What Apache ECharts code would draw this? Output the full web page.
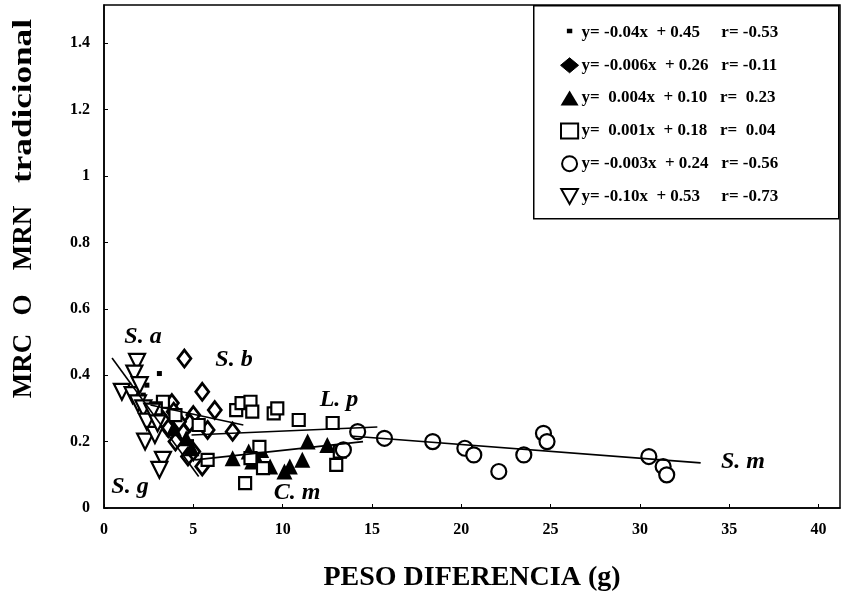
<!DOCTYPE html>
<html>
<head>
<meta charset="utf-8">
<script src="https://cdn.jsdelivr.net/npm/echarts@6/dist/echarts.min.js"></script>
<style>
html,body{margin:0;padding:0;background:#fff;}
#chart{width:855px;height:597px;}
</style>
</head>
<body>
<div id="chart"></div>
<script>
// ---- data ----
var xTicks = [0, 5, 10, 15, 20, 25, 30, 35, 40];
var yTicks = [0, 0.2, 0.4, 0.6, 0.8, 1, 1.2, 1.4];

var legendNames = [
  "y= -0.04x  + 0.45     r= -0.53",
  "y= -0.006x  + 0.26   r= -0.11",
  "y=  0.004x  + 0.10   r=  0.23",
  "y=  0.001x  + 0.18   r=  0.04",
  "y= -0.003x  + 0.24   r= -0.56",
  "y= -0.10x  + 0.53     r= -0.73"
];

var yTitleWords = [
  {text: "MRC", y: 366, stretch: 1},
  {text: "O", y: 305, stretch: 1},
  {text: "MRN", y: 238, stretch: 1},
  {text: "tradicional", y: 101, stretch: 1.3}
];

var sa = [[3.1,0.405],[2.4,0.37],[3.3,0.33],[2.8,0.30],[4.0,0.29],[3.6,0.26],[4.4,0.23],[3.0,0.27],[4.9,0.20],[2.2,0.34]];
var sb = [[4.5,0.45],[5.5,0.35],[6.2,0.295],[5.0,0.28],[5.8,0.235],[7.2,0.23],[4.8,0.256],[3.8,0.316],[4.7,0.155],[5.5,0.125],[5.0,0.17],[4.0,0.20],[4.4,0.23],[3.3,0.265],[3.6,0.24],[4.2,0.26],[3.9,0.29]];
var cm = [[7.2,0.15],[8.1,0.17],[8.5,0.155],[8.8,0.175],[9.3,0.125],[10.1,0.11],[10.4,0.125],[11.1,0.145],[11.4,0.2],[12.5,0.19],[4.6,0.21],[3.9,0.24],[4.9,0.18],[8.3,0.14]];
var lp = [[7.4,0.295],[7.7,0.316],[8.2,0.32],[8.3,0.29],[9.5,0.285],[9.7,0.30],[10.9,0.265],[12.8,0.256],[13.2,0.17],[13.0,0.13],[7.9,0.075],[8.7,0.184],[8.9,0.12],[5.8,0.145],[3.3,0.32],[4.0,0.28],[2.9,0.30],[5.3,0.25],[8.2,0.15]];
var sm = [[15.7,0.21],[18.4,0.2],[20.2,0.18],[20.7,0.16],[22.1,0.11],[23.5,0.16],[24.6,0.225],[24.8,0.2],[30.5,0.155],[31.3,0.125],[31.5,0.1],[13.4,0.175],[14.2,0.23]];
var sg = [[1.85,0.44],[1.7,0.405],[1.0,0.35],[1.6,0.34],[1.9,0.315],[2.2,0.30],[2.4,0.26],[2.3,0.20],[2.85,0.22],[3.3,0.145],[3.1,0.115],[2.0,0.37],[2.7,0.29],[3.0,0.255]];

// fitted lines as drawn (endpoints)
var fitSg = [[0.45,0.452],[5.3,0.095]];
var fitSb = [[2.6,0.31],[7.8,0.25]];
var fitLp = [[4.9,0.22],[15.3,0.244]];
var fitCm = [[5.1,0.145],[14.5,0.2]];
var fitSm = [[13.8,0.217],[33.4,0.136]];

var speciesLabels = [
  {text:"S. a", x:143, y:337},
  {text:"S. b", x:234, y:360},
  {text:"L. p", x:339, y:400},
  {text:"C. m", x:297, y:493},
  {text:"S. m", x:743, y:462},
  {text:"S. g", x:130, y:487}
];

// ---- chart ----
var FONT = "'Liberation Serif','Times New Roman',serif";
var chart = echarts.init(document.getElementById('chart'), null, {renderer:'canvas'});

function scat(name, data, symbol, size, fill, bw, rot){
  return {
    name: name, type: 'scatter', data: data, symbol: symbol, symbolSize: size,
    symbolRotate: rot || 0,
    itemStyle: {color: fill, borderColor: '#000', borderWidth: bw, opacity: 1},
    emphasis: {disabled: true}, z: 3
  };
}
function fit(name, data){
  return {
    name: name, type: 'line', data: data, symbol: 'none',
    lineStyle: {color: '#000', width: 1.6}, silent: true, z: 4
  };
}

var graphics = [
  {type: 'rect', left: 533, top: 5, shape: {width: 305, height: 213},
   style: {fill: '#fff', stroke: '#000', lineWidth: 1.5}, z: 1, silent: true}
];
speciesLabels.forEach(function(s){
  graphics.push({type: 'text', x: s.x, y: s.y, z: 10, silent: true,
    style: {text: s.text, fill: '#000', font: 'italic bold 24px ' + FONT, textAlign: 'center', textVerticalAlign: 'middle'}});
});
yTitleWords.forEach(function(w){
  graphics.push({type: 'text', x: 24, y: w.y, rotation: Math.PI / 2, scaleX: w.stretch, z: 10, silent: true,
    style: {text: w.text, fill: '#000', font: 'bold 27px ' + FONT, textAlign: 'center', textVerticalAlign: 'middle'}});
});

var option = {
  backgroundColor: '#fff',
  animation: false,
  grid: {left: 104, right: 15, top: 5, bottom: 89, show: true, borderColor: '#000', borderWidth: 1.5},
  xAxis: {
    type: 'value', min: 0, max: 41.2, interval: 5,
    axisLine: {show: true, onZero: false, lineStyle: {color: '#000', width: 1.5}},
    axisTick: {show: true, inside: true, length: 4, lineStyle: {color: '#000'}},
    splitLine: {show: false},
    axisLabel: {showMaxLabel: false, color: '#000', fontFamily: FONT, fontWeight: 'bold', fontSize: 16, margin: 14},
    name: 'PESO DIFERENCIA (g)', nameLocation: 'middle', nameGap: 56,
    nameTextStyle: {color: '#000', fontFamily: FONT, fontWeight: 'bold', fontSize: 28}
  },
  yAxis: {
    type: 'value', min: 0, max: 1.515, interval: 0.2,
    axisLine: {show: true, onZero: false, lineStyle: {color: '#000', width: 1.5}},
    axisTick: {show: true, inside: true, length: 4, lineStyle: {color: '#000'}},
    splitLine: {show: false},
    axisLabel: {showMaxLabel: false, color: '#000', fontFamily: FONT, fontWeight: 'bold', fontSize: 16, margin: 14}
  },
  legend: {
    show: true, orient: 'vertical', left: 555, top: 19,
    itemWidth: 18, itemHeight: 15, itemGap: 15.8,
    textStyle: {color: '#000', fontFamily: FONT, fontWeight: 'bold', fontSize: 17, lineHeight: 15, padding: [0,0,0,-2]},
    selectedMode: false,
    data: [
      {name: legendNames[0], icon: 'path://M0,0L0.01,0L0,0.01Z M10,10L9.99,10L10,9.99Z M3.2,2.5L6.8,2.5L6.8,5.5L3.2,5.5Z', itemStyle: {color: '#000', borderWidth: 0}},
      {name: legendNames[1], icon: 'diamond', itemStyle: {color: '#000', borderColor: '#000', borderWidth: 1}},
      {name: legendNames[2], icon: 'triangle', itemStyle: {color: '#000'}},
      {name: legendNames[3], icon: 'path://M1,1L9,1L9,8L1,8Z', itemStyle: {color: '#fff', borderColor: '#000', borderWidth: 2}},
      {name: legendNames[4], icon: 'circle', itemStyle: {color: '#fff', borderColor: '#000', borderWidth: 2}},
      {name: legendNames[5], icon: 'path://M0,0L10,0L5,9Z', itemStyle: {color: '#fff', borderColor: '#000', borderWidth: 2}}
    ]
  },
  graphic: graphics,
  series: [
    scat(legendNames[0], sa, 'rect', 5, '#000', 0),
    scat(legendNames[1], sb, 'diamond', [13, 17], '#fff', 2.8),
    scat(legendNames[2], cm, 'triangle', 16, '#000', 0),
    scat(legendNames[3], lp, 'rect', 12, '#fff', 2.2),
    scat(legendNames[4], sm, 'circle', 15, '#fff', 2.2),
    scat(legendNames[5], sg, 'triangle', 16, '#fff', 2.2, 180),
    fit('fitSg', fitSg),
    fit('fitSb', fitSb),
    fit('fitLp', fitLp),
    fit('fitCm', fitCm),
    fit('fitSm', fitSm)
  ]
};
chart.setOption(option);
</script>
</body>
</html>
